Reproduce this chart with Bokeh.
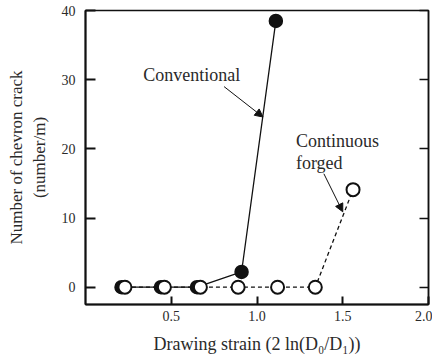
from bokeh.plotting import figure
from bokeh.models import (LinearAxis, FixedTicker, Arrow, NormalHead,
                          ColumnDataSource, Range1d, PrintfTickFormatter,
                          CustomJSTickFormatter)
from bokeh.core.properties import value
from bokeh.embed import file_html
from bokeh.resources import INLINE

# Data
conv_strain = [0.21, 0.44, 0.65, 0.91, 1.11]
conv_cracks = [0.0, 0.0, 0.0, 2.2, 38.5]
forged_strain = [0.23, 0.46, 0.67, 0.89, 1.12, 1.34, 1.56]
forged_cracks = [0.0, 0.0, 0.0, 0.0, 0.0, 0.0, 14.1]
x_ticks = [0.5, 1.0, 1.5, 2.0]
y_ticks = [0, 10, 20, 30, 40]
note_texts = ["Conventional", "Continuous", "forged"]

FONT = "Liberation Serif"
INK = "#111111"
TXT = "#2a2a2a"

p = figure(width=432, height=357, output_backend="svg", toolbar_location=None,
           x_range=Range1d(0.0, 2.0), y_range=Range1d(-2.5, 40.0),
           min_border_left=85, min_border_right=4, min_border_top=10,
           min_border_bottom=53)
p.background_fill_color = "white"
p.border_fill_color = "white"
p.grid.visible = False
p.outline_line_color = INK
p.outline_line_width = 1.5

xa = p.xaxis[0]
xa.ticker = FixedTicker(ticks=x_ticks)
xa.formatter = PrintfTickFormatter(format="%.1f")
xa.major_tick_in = 8
xa.major_tick_out = 0
xa.minor_tick_in = 0
xa.minor_tick_out = 0
xa.axis_line_width = 2
xa.axis_line_color = INK
xa.major_tick_line_width = 2
xa.major_tick_line_color = INK
xa.major_label_text_font = FONT
xa.major_label_text_font_size = "14px"
xa.major_label_text_color = TXT
xa.major_label_standoff = 6
xa.axis_label = "Drawing strain (2 ln(D\u2080/D\u2081))"
xa.axis_label_text_font = FONT
xa.axis_label_text_font_style = "normal"
xa.axis_label_text_font_size = "18px"
xa.axis_label_text_color = TXT
xa.axis_label_standoff = 10

ya = p.yaxis[0]
ya.ticker = FixedTicker(ticks=y_ticks)
ya.major_tick_in = 10
ya.major_tick_out = 0
ya.minor_tick_in = 0
ya.minor_tick_out = 0
ya.axis_line_width = 2
ya.axis_line_color = INK
ya.major_tick_line_width = 2
ya.major_tick_line_color = INK
ya.major_label_text_font = FONT
ya.major_label_text_font_size = "14px"
ya.major_label_text_color = TXT
ya.major_label_standoff = 10
ya.axis_label = "Number of chevron crack\n(number/m)"
ya.axis_label_text_font = FONT
ya.axis_label_text_font_style = "normal"
ya.axis_label_text_font_size = "17px"
ya.axis_label_text_color = TXT
ya.axis_label_standoff = 10

ra = LinearAxis(ticker=FixedTicker(ticks=y_ticks),
                formatter=CustomJSTickFormatter(code="return ''"))
ra.major_tick_in = 9
ra.major_tick_out = 0
ra.minor_tick_in = 0
ra.minor_tick_out = 0
ra.major_label_standoff = 0
ra.axis_line_width = 1.5
ra.axis_line_color = INK
ra.major_tick_line_width = 1.5
ra.major_tick_line_color = INK
p.add_layout(ra, "right")

conv = ColumnDataSource(dict(x=conv_strain, y=conv_cracks))
forg = ColumnDataSource(dict(x=forged_strain, y=forged_cracks))

p.line("x", "y", source=forg, line_color=INK, line_width=1.3, line_dash="4 3")
p.line("x", "y", source=conv, line_color=INK, line_width=1.3)
p.scatter("x", "y", source=conv, size=13, marker="circle",
          fill_color=INK, line_color=INK, line_width=1.5)
p.scatter("x", "y", source=forg, size=13, marker="circle",
          fill_color="white", line_color=INK, line_width=2)

# Annotations
notes = ColumnDataSource(dict(x=[0.337, 1.227, 1.227], y=[30.7, 21.2, 17.9],
                              t=note_texts))
p.text("x", "y", text="t", source=notes, text_font=value(FONT),
       text_font_size="18px", text_color=TXT, text_baseline="middle",
       text_align="left")
p.add_layout(Arrow(x_start=0.808, y_start=29.0, x_end=1.035, y_end=24.6,
                   line_color=INK, line_width=1,
                   end=NormalHead(size=8, fill_color=INK, line_color=INK)))
p.add_layout(Arrow(x_start=1.39, y_start=16.4, x_end=1.50, y_end=10.9,
                   line_color=INK, line_width=1,
                   end=NormalHead(size=8, fill_color=INK, line_color=INK)))

open("out.html", "w").write(file_html(p, INLINE))
